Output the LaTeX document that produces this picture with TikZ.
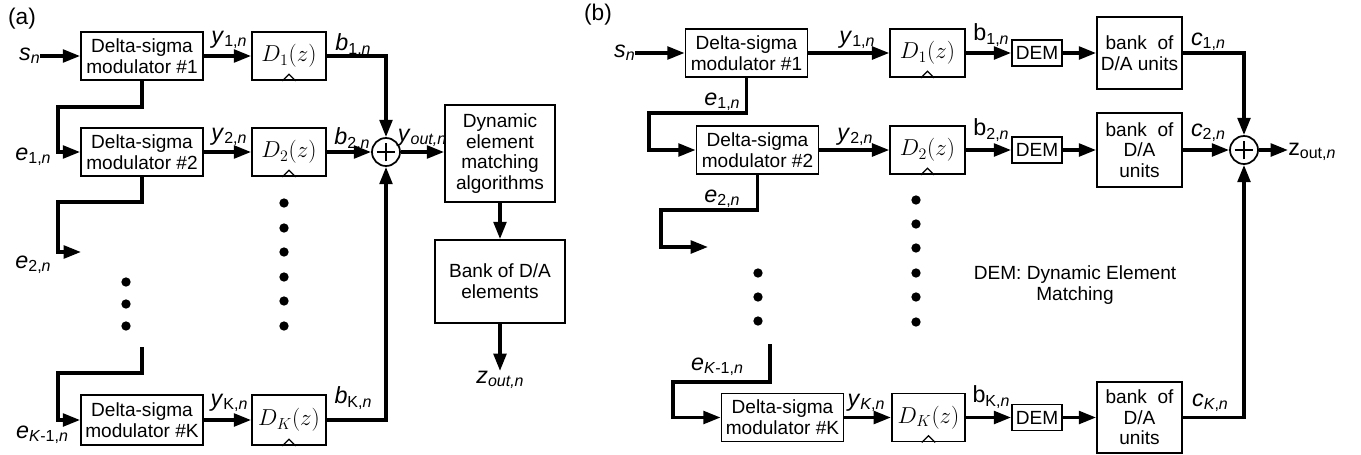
\documentclass[tikz,border=0pt]{standalone}
\usepackage{fontspec}
\setmainfont{Liberation Sans}
\usetikzlibrary{arrows.meta}
% fonts
\newcommand\boxfont{\fontsize{14.3}{15.5}\selectfont}
\newcommand\dfont{\fontsize{17.5}{18}\selectfont}
\newcommand\sbx[1]{\raisebox{-0.45ex}{\fontsize{12}{12}\selectfont #1}}
\newcommand\lab[2]{{\fontsize{17.5}{17.5}\selectfont #1}\sbx{#2}}
\tikzset{
  box/.style={draw, line width=1.3pt, align=center, inner sep=0pt, font=\boxfont},
  dsm/.style={box, minimum width=91.5pt, minimum height=36pt},
  dbox/.style={box, minimum width=55.5pt, minimum height=36pt, font=\dfont},
  dem/.style={box, minimum width=37.5pt, minimum height=19.5pt},
  bank/.style={box, minimum width=63.75pt, minimum height=54pt},
  conn/.style={line width=2.6pt},
  arr/.style={conn, -{Triangle[length=13pt,width=9.5pt]}},
  dotn/.style={circle, fill, inner sep=0pt, minimum size=7pt},
  lbl/.style={inner sep=0pt},
  summ/.style={draw, circle, line width=1.3pt, minimum size=21pt, inner sep=0pt},
}
\begin{document}
\begin{tikzpicture}[x=0.75pt, y=-0.75pt]
\useasboundingbox (0,0) rectangle (1361,454);

% ---------------- panel (a) ----------------
\node[lbl, font=\fontsize{17}{17}\selectfont] (tagA) at (22,19) {(a)};

\node[dsm] (dsmA1) at (142,56)  {Delta-sigma\\modulator \#1};
\node[dsm] (dsmA2) at (142,152) {Delta-sigma\\modulator \#2};
\node[dsm, minimum height=37.5pt] (dsmAK) at (142,420) {Delta-sigma\\modulator \#K};

\node[dbox] (DA1) at (289,56)  {$D_1(z)$};
\node[dbox] (DA2) at (289,152) {$D_2(z)$};
\node[dbox, minimum height=37.5pt] (DAK) at (289,420) {$D_K(z)$};

\node[summ] (sumA) at (386,152) {};
\draw[line width=1pt] ([xshift=-7pt]sumA.center) -- ([xshift=7pt]sumA.center)
                      ([yshift=-7pt]sumA.center) -- ([yshift=7pt]sumA.center);

\node[box, minimum width=82.5pt, minimum height=72.75pt] (demA) at (500,153.5)
  {Dynamic\\element\\matching\\algorithms};
\node[box, minimum width=97.5pt, minimum height=62.25pt] (bankA) at (500,281.5)
  {Bank of D/A\\elements};

% labels (a)
\node[lbl, anchor=east] (sA) at (40,56) {\lab{\textit{s}}{\textit{n}}};
\node[lbl] (yA1) at (229,40) {\lab{\textit{y}}{1,\textit{n}}};
\node[lbl] (yA2) at (229,137) {\lab{\textit{y}}{2,\textit{n}}};
\node[lbl] (yAK) at (229,403) {\lab{\textit{y}}{K,\textit{n}}};
\node[lbl] (eA1) at (33,157) {\lab{\textit{e}}{1,\textit{n}}};
\node[lbl] (eA2) at (33,265) {\lab{\textit{e}}{2,\textit{n}}};
\node[lbl] (eAK) at (42,435) {\lab{\textit{e}}{\textit{K}-1,\textit{n}}};
\node[lbl] (bA1) at (353,45) {\lab{\textit{b}}{1,\textit{n}}};
\node[lbl] (bA2) at (352,139) {\lab{\textit{b}}{2,\textit{n}}};
\node[lbl] (bAK) at (353,398) {\lab{\textit{b}}{K,\textit{n}}};
\node[lbl] (youtA) at (422,138) {\lab{\textit{y}}{\textit{out,n}}};
\node[lbl] (zoutA) at (500,380) {\lab{\textit{z}}{\textit{out,n}}};

% dots (a)
\foreach \yy [count=\i] in {282,304,326}
  \node[dotn] (dotAL\i) at (126,\yy) {};
\foreach \yy [count=\i] in {203,228,252,277,301,326}
  \node[dotn] (dotAR\i) at (284,\yy) {};

% connectors (a)
\coordinate (cA1) at (58,107);
\coordinate (cA2) at (58,202);
\coordinate (endA2) at (81,252);
\coordinate (startAK) at (142,347);
\coordinate (cAK) at (58,373);
\draw[arr] (sA.east) -- (dsmA1.west);
\draw[arr] (dsmA1) -- (DA1);
\draw[arr] (dsmA2) -- (DA2);
\draw[arr] (dsmAK) -- (DAK);
\draw[arr] (dsmA1.south) |- (cA1) |- (dsmA2.west);
\draw[arr] (dsmA2.south) |- (cA2) |- (endA2);
\draw[arr] (startAK) |- (cAK) |- (dsmAK.west);
\draw[arr] (DA1.east) -| (sumA.north);
\draw[arr] (DA2.east) -- (sumA.west);
\draw[arr] (DAK.east) -| (sumA.south);
\draw[arr] (sumA.east) -- (demA.west |- sumA.east);
\draw[arr] (demA.south -| bankA.north) -- (bankA.north);
\draw[arr] (bankA.south) -- (zoutA.north);

% ---------------- panel (b) ----------------
\node[lbl, font=\fontsize{17}{17}\selectfont] (tagB) at (598,15) {(b)};

\node[dsm] (dsmB1) at (746.5,53)  {Delta-sigma\\modulator \#1};
\node[dsm] (dsmB2) at (757.5,150) {Delta-sigma\\modulator \#2};
\node[dsm] (dsmBK) at (782.5,417.5) {Delta-sigma\\modulator \#K};

\node[dbox, minimum width=56pt] (DB1) at (927.5,53)  {$D_1(z)$};
\node[dbox, minimum width=56pt] (DB2) at (927.5,150) {$D_2(z)$};
\node[dbox, minimum width=55pt] (DBK) at (928.5,417.5) {$D_K(z)$};

\node[dem] (demB1) at (1037,53) {DEM};
\node[dem] (demB2) at (1037,150) {DEM};
\node[dem] (demBK) at (1037,417.5) {DEM};

\node[bank] (bankB1) at (1139.5,53) {bank\ \ of\\D/A units};
\node[bank, minimum height=55.5pt] (bankB2) at (1139.5,150) {bank\ \ of\\D/A\\units};
\node[bank, minimum height=53.25pt] (bankBK) at (1139.5,417.5) {bank\ \ of\\D/A\\units};

\node[summ] (sumB) at (1244,150) {};
\draw[line width=1pt] ([xshift=-7pt]sumB.center) -- ([xshift=7pt]sumB.center)
                      ([yshift=-7pt]sumB.center) -- ([yshift=7pt]sumB.center);

% labels (b)
\node[lbl, anchor=east] (sB) at (635,53) {\lab{\textit{s}}{\textit{n}}};
\node[lbl] (yB1) at (857,40) {\lab{\textit{y}}{1,\textit{n}}};
\node[lbl] (yB2) at (855,137) {\lab{\textit{y}}{2,\textit{n}}};
\node[lbl] (yBK) at (866,403) {\lab{\textit{y}}{\textit{K},\textit{n}}};
\node[lbl] (eB1) at (722,102) {\lab{\textit{e}}{1,\textit{n}}};
\node[lbl] (eB2) at (722,199) {\lab{\textit{e}}{2,\textit{n}}};
\node[lbl] (eBK) at (717,367) {\lab{\textit{e}}{\textit{K}-1,\textit{n}}};
\node[lbl] (bB1) at (991,35) {\lab{b}{1,\textit{n}}};
\node[lbl] (bB2) at (991,130) {\lab{b}{2,\textit{n}}};
\node[lbl] (bBK) at (991,397) {\lab{b}{K,\textit{n}}};
\node[lbl] (cB1) at (1208,42) {\lab{\textit{c}}{1,\textit{n}}};
\node[lbl] (cB2) at (1208,133) {\lab{\textit{c}}{2,\textit{n}}};
\node[lbl] (cBK) at (1210,403) {\lab{\textit{c}}{\textit{K},\textit{n}}};
\node[lbl, anchor=west] (zoutB) at (1288,152) {\lab{z}{out,\textit{n}}};
\node[lbl, align=center, font=\boxfont] (note) at (1075,285)
  {DEM: Dynamic Element\\Matching};

% dots (b)
\foreach \yy [count=\i] in {273,297,321}
  \node[dotn] (dotBL\i) at (758,\yy) {};
\foreach \yy [count=\i] in {200,224,248,273,297,322}
  \node[dotn] (dotBR\i) at (916,\yy) {};

% connectors (b)
\coordinate (cB1) at (649,113);
\coordinate (cB2) at (661,210);
\coordinate (endB2) at (708,247);
\coordinate (startBK) at (770,344);
\coordinate (cBK) at (673,382);
\draw[arr] (sB.east) -- (dsmB1.west);
\draw[arr] (dsmB1) -- (DB1);
\draw[arr] (dsmB2) -- (DB2);
\draw[arr] (dsmBK) -- (DBK);
\draw[arr] (dsmB1.south) |- (cB1) |- (dsmB2.west);
\draw[arr] (dsmB2.south) |- (cB2) |- (endB2);
\draw[arr] (startBK) |- (cBK) |- (dsmBK.west);
\foreach \r in {1,2,K} {
  \draw[arr] (DB\r) -- (demB\r);
  \draw[arr] (demB\r) -- (bankB\r);
}
\draw[arr] (bankB1.east) -| (sumB.north);
\draw[arr] (bankB2.east) -- (sumB.west);
\draw[arr] (bankBK.east) -| (sumB.south);
\draw[arr] (sumB.east) -- (zoutB.west |- sumB.east);

% clock marks on the bottom edge of each D(z) block
\foreach \n in {DA1,DA2,DAK,DB1,DB2,DBK}
  \draw[line width=1pt] ([xshift=-5pt]\n.south) -- ([yshift=5pt]\n.south) -- ([xshift=5pt]\n.south);
\end{tikzpicture}
\end{document}
